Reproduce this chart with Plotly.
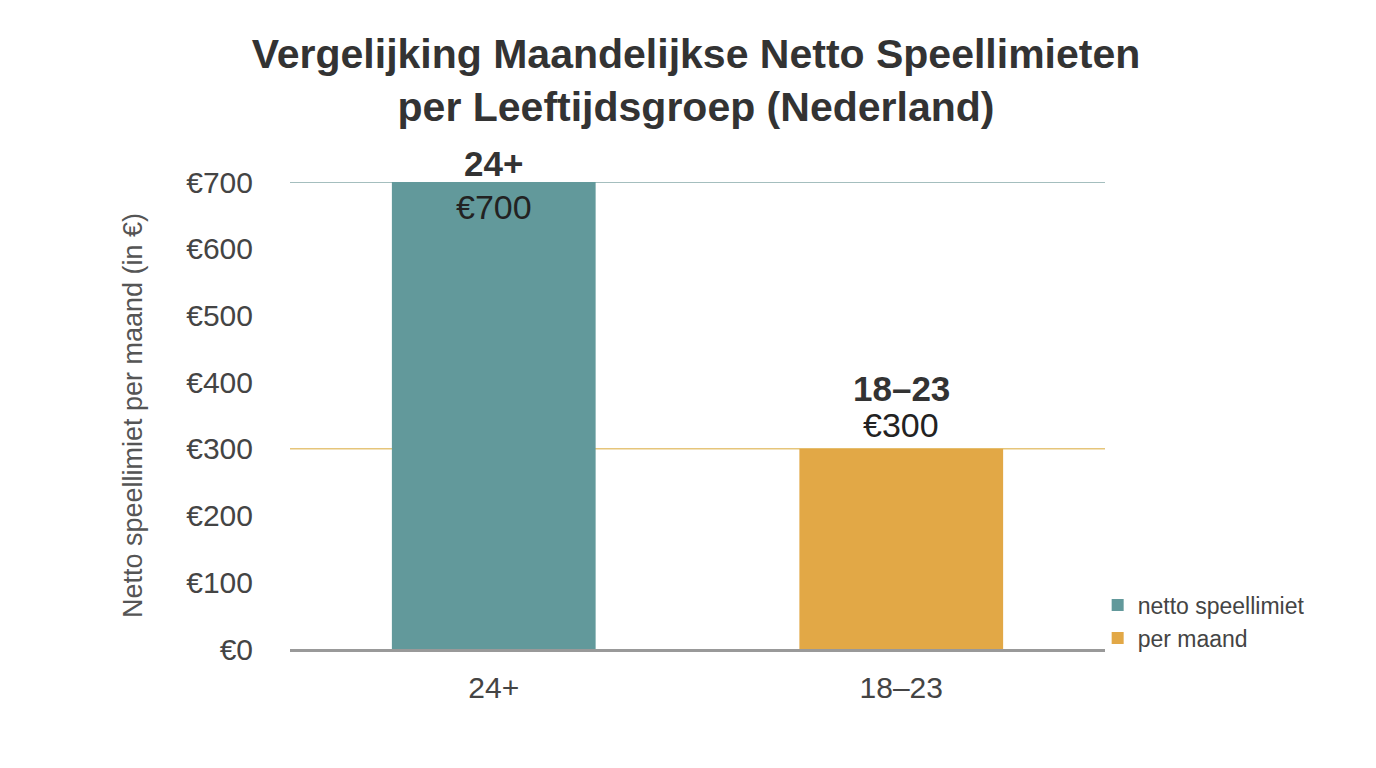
import plotly.graph_objects as go

# Data
groups = ["24+", "18–23"]
limits = [700, 300]
legend_names = ["netto speellimiet", "per maand"]
value_labels = ["€700", "€300"]

TEAL = "#62999B"
GOLD = "#E2A846"
FONT = "Liberation Sans, Arial, sans-serif"
TXT = "#333333"

fig = go.Figure()
for g, v, name, col in zip(groups, limits, legend_names, [TEAL, GOLD]):
    fig.add_trace(go.Bar(x=[g], y=[v], name=name, marker=dict(color=col, line=dict(width=0)),
                         width=0.5, offsetgroup="a", hoverinfo="skip"))

# reference lines at each limit
for v, col in zip(limits, ["#86A9A9", "#E6C57A"]):
    fig.add_shape(type="line", xref="paper", x0=0, x1=1, yref="y", y0=v, y1=v,
                  line=dict(color=col, width=1.5), layer="below")

# labels above / in the bars
fig.add_annotation(x=groups[0], y=limits[0], text="<b>24+</b>", showarrow=False,
                   yshift=19, font=dict(size=35, color=TXT, family=FONT))
fig.add_annotation(x=groups[0], y=limits[0], text=value_labels[0], showarrow=False,
                   yshift=-25, font=dict(size=34, color="#222", family=FONT))
fig.add_annotation(x=groups[1], y=limits[1], text="<b>18–23</b>", showarrow=False,
                   yshift=60, font=dict(size=35, color=TXT, family=FONT))
fig.add_annotation(x=groups[1], y=limits[1], text=value_labels[1], showarrow=False,
                   yshift=24, font=dict(size=34, color="#222", family=FONT))

fig.update_layout(
    width=1376, height=768,
    paper_bgcolor="white", plot_bgcolor="white",
    font=dict(family=FONT, color="#444"),
    title=dict(text="<b>Vergelijking Maandelijkse Netto Speellimieten<br>per Leeftijdsgroep (Nederland)</b>",
               x=0.5, xanchor="center", y=0.922, yanchor="top",
               font=dict(size=41, color=TXT, family=FONT)),
    margin=dict(l=282, r=279, t=174, b=127),
    barmode="overlay",
    showlegend=True,
    legend=dict(x=0.991, xanchor="left", y=0.14, yanchor="top", font=dict(size=23, color="#444"),
                bgcolor="rgba(0,0,0,0)", itemwidth=30),
)

fig.update_xaxes(showgrid=False, showline=True, linecolor="#999999", linewidth=3,
                 tickfont=dict(size=30, color="#444"), ticks="", ticklabelstandoff=10)
fig.update_yaxes(range=[0, 700], dtick=100, showgrid=False, zeroline=False,
                 tickprefix="€", tickfont=dict(size=30, color="#444"), ticklabelstandoff=36,
                 title=dict(text="Netto speellimiet per maand (in €)", font=dict(size=27, color="#555"),
                            standoff=35))

fig.write_html("out.html")
